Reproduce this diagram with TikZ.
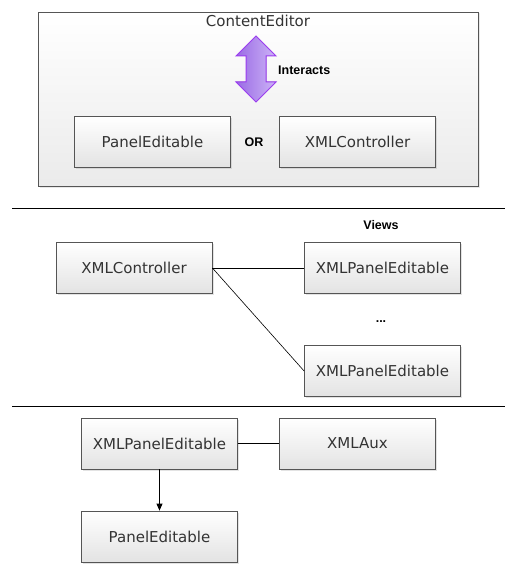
\documentclass[tikz,border=0pt]{standalone}
\usepackage{fontspec}
\setmainfont{DejaVu Sans}
\newfontfamily\lblfont{Liberation Sans}
\usetikzlibrary{shadows,arrows.meta}
\definecolor{boxborder}{HTML}{555555}
\definecolor{boxtext}{HTML}{333333}
\definecolor{arrowedge}{HTML}{9B3CF0}
\definecolor{arrowdark}{HTML}{9A6BE4}
\definecolor{arrowlight}{HTML}{CDB4F7}
\begin{document}
\begin{tikzpicture}[x=1pt,y=-1pt,
  box/.style={draw=boxborder, line width=0.8pt, top color=white, bottom color=black!11,
    minimum width=156pt, minimum height=51pt, inner sep=0pt,
    font=\fontsize{15}{17}\selectfont, text=boxtext,
    drop shadow={opacity=0.22, shadow xshift=1.5pt, shadow yshift=-1.5pt}},
  outerbox/.style={draw=boxborder, line width=0.8pt, top color=white, bottom color=black!8,
    minimum width=440pt, minimum height=174pt, inner sep=0pt,
    drop shadow={opacity=0.18, shadow xshift=1.5pt, shadow yshift=-1.5pt}},
  lbl/.style={font=\lblfont\bfseries\fontsize{12.5}{14}\selectfont, text=black, inner sep=0pt},
  conn/.style={draw=black, line width=0.8pt},
  sep/.style={draw=black, line width=0.9pt}]
\useasboundingbox (0,0) rectangle (516,575);

% Section 1
\node[outerbox] (ce) at (258,99) {};
\node[font=\fontsize{15}{17}\selectfont, text=boxtext] (cetitle) at (258,21) {ContentEditor};
\filldraw[draw=arrowedge, line width=1pt, left color=arrowdark, right color=arrowlight, line join=miter]
  (256,36) -- (276,56) -- (266,56) -- (266,82) -- (276,82) -- (256,102)
  -- (236,82) -- (246,82) -- (246,56) -- (236,56) -- cycle;
\node[lbl, anchor=west] (interacts) at (278,70) {Interacts};
\node[box] (pe1) at (152.5,142) {PanelEditable};
\node[box] (xc1) at (357.5,142) {XMLController};
\node[lbl] (or) at (254,142) {OR};

\coordinate (s1l) at (12,208);
\coordinate (s1r) at (505,208);
\draw[sep] (s1l) -- (s1r);

% Section 2
\node[box] (xc2) at (134,268) {XMLController};
\node[box] (v1) at (382.5,268) {XMLPanelEditable};
\node[box] (v2) at (382.5,371) {XMLPanelEditable};
\node[lbl] (views) at (381,225) {Views};
\node[lbl] (dots) at (381,322) {...};
\draw[conn] (xc2.east) -- (v1.west);
\draw[conn, line width=0.6pt] (xc2.east) -- (v2.west);

\coordinate (s2l) at (12,406);
\coordinate (s2r) at (505,406);
\draw[sep] (s2l) -- (s2r);

% Section 3
\node[box] (xp) at (159.5,443.5) {XMLPanelEditable};
\node[box] (xa) at (357.5,443.5) {XMLAux};
\node[box] (pe3) at (159.5,536.5) {PanelEditable};
\draw[conn] (xp.east) -- (xa.west);
\draw[conn, -{Triangle[length=7pt,width=6pt]}] (xp.south) -- (pe3.north);
\end{tikzpicture}
\end{document}
